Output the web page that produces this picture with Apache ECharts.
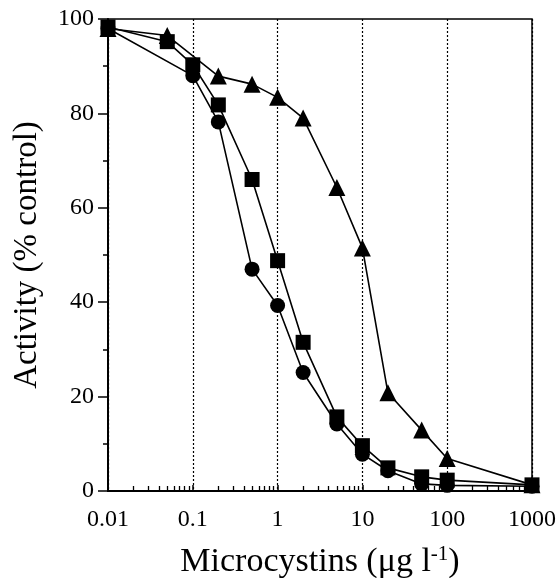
<!DOCTYPE html>
<html>
<head>
<meta charset="utf-8">
<script src="https://cdn.jsdelivr.net/npm/echarts@6/dist/echarts.min.js"></script>
<style>
  html, body { margin: 0; padding: 0; background: #fff; }
  #chart { width: 559px; height: 578px; }
</style>
</head>
<body>
<div id="chart"></div>
<script>
// concentration (ug/l) and activity (% control) per series
var circleX = [0.01, 0.1, 0.2, 0.5, 1, 2, 5, 10, 20, 50, 100, 1000];
var circleY = [98, 88, 78.2, 47, 39.3, 25.1, 14.2, 7.8, 4.3, 1.5, 1.2, 1.0];
var squareX = [0.01, 0.05, 0.1, 0.2, 0.5, 1, 2, 5, 10, 20, 50, 100, 1000];
var squareY = [98.3, 95.2, 90.3, 81.8, 66, 48.8, 31.5, 15.7, 9.6, 4.9, 3.0, 2.3, 1.3];
var triangleX = [0.01, 0.05, 0.2, 0.5, 1, 2, 5, 10, 20, 50, 100, 1000];
var triangleY = [98, 96.5, 87.9, 86.2, 83.4, 79, 64.3, 51.5, 20.8, 12.9, 6.9, 1.3];
var yTicks = [0, 20, 40, 60, 80, 100];
var decades = [0.01, 0.1, 1, 10, 100, 1000];
var minorSteps = [2, 3, 4, 5, 6, 7, 8, 9];

var minorX = [];
decades.slice(0, -1).forEach(function (d) {
  minorSteps.forEach(function (m) { minorX.push(+(d * m).toPrecision(3)); });
});

function pairs(xs, ys) {
  return xs.map(function (x, i) { return [x, ys[i]]; });
}

var font = '"Liberation Serif", "DejaVu Serif", serif';

var chart = echarts.init(document.getElementById('chart'));
chart.setOption({
  backgroundColor: '#fff',
  animation: false,
  grid: {
    left: 108, right: 27, top: 19, bottom: 87,
    outerBoundsMode: 'none',
    containLabel: false,
    show: true, borderColor: '#000', borderWidth: 1.5, backgroundColor: 'transparent'
  },
  xAxis: [{
    type: 'log',
    logBase: 10,
    min: 0.01,
    max: 1000,
    name: '{a|Microcystins (μg l}{s|-1}{a|)}',
    nameLocation: 'middle',
    nameGap: 53,
    nameTextStyle: {
      rich: {
        a: { fontFamily: font, fontSize: 34, color: '#000' },
        s: { fontFamily: font, fontSize: 21, color: '#000', verticalAlign: 'top', padding: [0, 0, 15, 0] }
      }
    },
    axisLine: { lineStyle: { color: '#000', width: 2 } },
    axisTick: { inside: true, length: 6, lineStyle: { color: '#000', width: 1.5 } },
    axisLabel: {
      color: '#000', fontFamily: font, fontSize: 24, margin: 17,
      formatter: function (v) { return String(+v.toPrecision(3)); }
    },
    splitLine: { show: true, lineStyle: { color: '#000', type: [2, 2], width: 1.2 } }
  }, {
    type: 'log',
    logBase: 10,
    min: 0.01,
    max: 1000,
    position: 'bottom',
    axisLine: { show: false },
    axisTick: { show: true, inside: true, length: 5, customValues: minorX, lineStyle: { color: '#000', width: 1.3 } },
    axisLabel: { show: false },
    splitLine: { show: false }
  }],
  yAxis: {
    type: 'value',
    min: 0,
    max: 100,
    interval: 20,
    name: 'Activity (% control)',
    nameLocation: 'middle',
    nameGap: 64,
    nameTextStyle: { fontFamily: font, fontSize: 33, color: '#000' },
    axisLine: { show: true, lineStyle: { color: '#000', width: 2 } },
    axisTick: { show: true, length: 10, customValues: yTicks, lineStyle: { color: '#000', width: 1.5 } },
    minorTick: { show: true, splitNumber: 2, length: 5, lineStyle: { color: '#000', width: 1.5 } },
    axisLabel: { color: '#000', fontFamily: font, fontSize: 24, margin: 14, customValues: yTicks },
    splitLine: { show: false }
  },
  series: [{
    name: 'circle',
    type: 'line',
    data: pairs(circleX, circleY),
    symbol: 'circle',
    symbolSize: 15,
    itemStyle: { color: '#000' },
    lineStyle: { color: '#000', width: 1.6 },
    z: 3
  }, {
    name: 'square',
    type: 'line',
    data: pairs(squareX, squareY),
    symbol: 'rect',
    symbolSize: 15,
    itemStyle: { color: '#000' },
    lineStyle: { color: '#000', width: 1.6 },
    z: 4
  }, {
    name: 'triangle',
    type: 'line',
    data: pairs(triangleX, triangleY),
    symbol: 'triangle',
    symbolSize: 17,
    itemStyle: { color: '#000' },
    lineStyle: { color: '#000', width: 1.6 },
    z: 5
  }]
});
</script>
</body>
</html>
